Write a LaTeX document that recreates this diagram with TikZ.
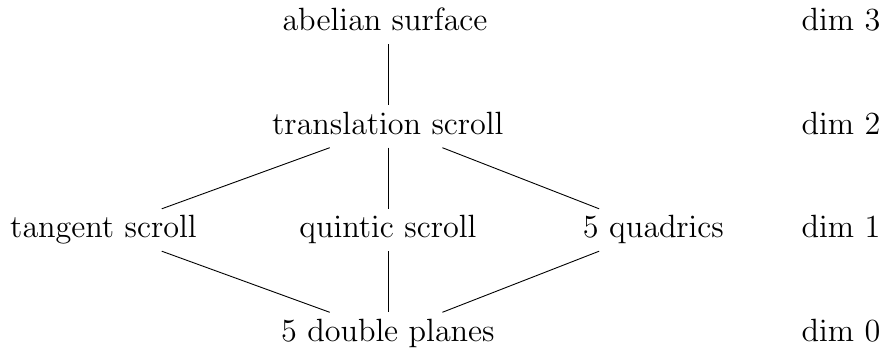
\documentclass[tikz,border=0pt]{standalone}
\font\bigrm=cmr12 at 32.2pt
\begin{document}
\begin{tikzpicture}[x=1pt,y=-1pt,
  lbl/.style={font=\bigrm, inner sep=6pt, text height=23pt, text depth=7pt},
  conn/.style={line width=0.9pt}]
\useasboundingbox (0,0) rectangle (885,352);
\node[lbl] (as) at (385,23) {abelian surface};
\node[lbl] (tr) at (388,126.5) {translation scroll};
\node[lbl] (ta) at (103.5,230) {tangent scroll};
\node[lbl] (qu) at (388,230) {quintic scroll};
\node[lbl] (fq) at (653.5,230) {5 quadrics};
\node[lbl] (dp) at (388,333.5) {5 double planes};
\node[lbl] (d3) at (841,23) {dim 3};
\node[lbl] (d2) at (841,126.5) {dim 2};
\node[lbl] (d1) at (841,230) {dim 1};
\node[lbl] (d0) at (841,333.5) {dim 0};
\draw[conn] (as.south -| tr.north) -- (tr.north);
\draw[conn] (tr) -- (ta);
\draw[conn] (tr) -- (qu);
\draw[conn] (tr) -- (fq);
\draw[conn] (ta) -- (dp);
\draw[conn] (qu) -- (dp);
\draw[conn] (fq) -- (dp);
\end{tikzpicture}
\end{document}
